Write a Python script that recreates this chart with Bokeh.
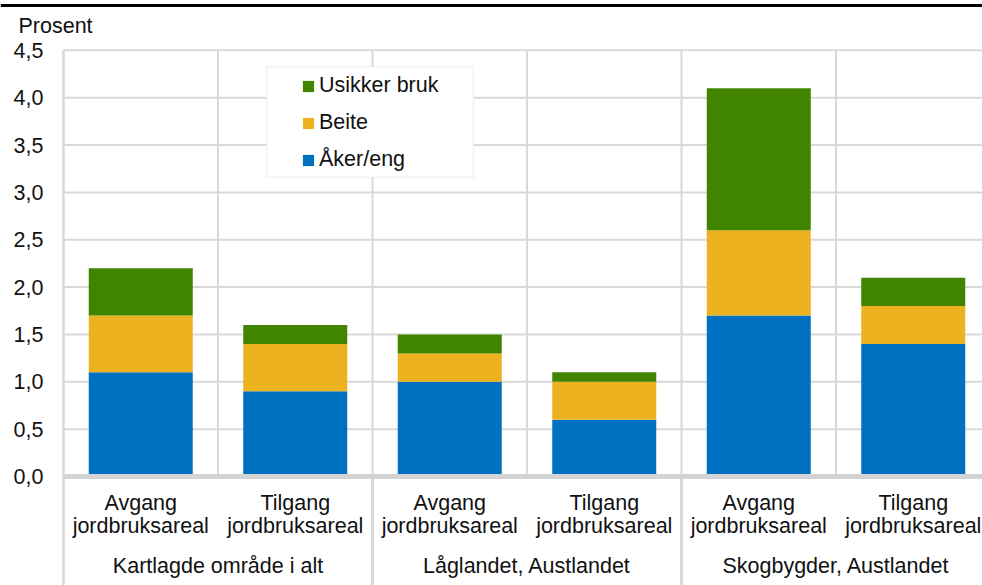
from bokeh.plotting import figure
from bokeh.models import ColumnDataSource, Legend, LegendItem, Range1d, BoxAnnotation
from bokeh.core.properties import value
from bokeh.embed import file_html
from bokeh.resources import INLINE

# ---------------- data ----------------
groups = ["Kartlagde område i alt", "Låglandet, Austlandet", "Skogbygder, Austlandet"]
subcategories = ["Avgang jordbruksareal", "Tilgang jordbruksareal"]
series_names = ["Åker/eng", "Beite", "Usikker bruk"]
aker_eng = [1.1, 0.9, 1.0, 0.6, 1.7, 1.4]
beite = [0.6, 0.5, 0.3, 0.4, 0.9, 0.4]
usikker_bruk = [0.5, 0.2, 0.2, 0.1, 1.5, 0.3]
y_ticks = [0.0, 0.5, 1.0, 1.5, 2.0, 2.5, 3.0, 3.5, 4.0, 4.5]
y_tick_labels = ["0,0", "0,5", "1,0", "1,5", "2,0", "2,5", "3,0", "3,5", "4,0", "4,5"]
y_title = "Prosent"

# ---------------- style ----------------
COLORS = ["#0070c0", "#ecb220", "#408400"]
GRID = "#d9d9d9"
FONT_NAME = "Liberation Sans"
FONT = value(FONT_NAME)
FS = "21.5px"
TXT = "#111111"

W, H = 982, 585              # figure = frame
ORIGIN_X, ORIGIN_Y = 63, 476   # pixel position of (0, 0) inside the frame (from top-left)
PX_X, PX_Y = 154.5, 94.7       # pixels per data unit


def dx(px):
    return px / PX_X


def dy(px):
    return px / PX_Y


n_cat = len(aker_eng)
cat_labels = [s for _ in groups for s in subcategories]
line1 = [s.split(" ", 1)[0] for s in cat_labels]
line2 = [s.split(" ", 1)[1] for s in cat_labels]
xc = [i + 0.5 for i in range(n_cat)]
group_x = [len(subcategories) * (g + 0.5) for g in range(len(groups))]
y_top = y_ticks[-1]

x_start = -dx(ORIGIN_X)
x_end = dx(W - ORIGIN_X)
y_start = -dy(H - ORIGIN_Y)
y_end = dy(ORIGIN_Y)

p = figure(width=W, height=H, output_backend="svg", toolbar_location=None,
           x_range=Range1d(x_start, x_end), y_range=Range1d(y_start, y_end),
           x_axis_type=None, y_axis_type=None, title=None,
           min_border=0, min_border_left=0, min_border_right=0,
           min_border_top=0, min_border_bottom=0)
p.outline_line_color = None
p.background_fill_color = "white"
p.border_fill_color = "white"

# top black rule
p.segment(x0=[x_start], y0=[y_end - dy(5)], x1=[x_end], y1=[y_end - dy(5)],
          line_color="black", line_width=3)

# horizontal grid lines
gy = y_ticks[1:]
p.segment(x0=[0] * len(gy), y0=gy, x1=[n_cat] * len(gy), y1=gy,
          line_color=GRID, line_width=2)

# vertical category separators inside plot
vx = list(range(1, n_cat))
p.segment(x0=vx, y0=[0] * len(vx), x1=vx, y1=[y_top] * len(vx),
          line_color=GRID, line_width=2)
# left border
p.segment(x0=[0], y0=[y_start], x1=[0], y1=[y_top], line_color=GRID, line_width=2.5)
# group separators in label area
gx = [len(subcategories) * g for g in range(1, len(groups) + 1)]
p.segment(x0=gx, y0=[y_start] * len(gx), x1=gx, y1=[0] * len(gx),
          line_color=GRID, line_width=3)

# bars
src = ColumnDataSource(dict(x=xc, aker=aker_eng, beite=beite, usikker=usikker_bruk))
bars = p.vbar_stack(["aker", "beite", "usikker"], x="x", width=dx(104), source=src,
                    color=COLORS, line_width=0)

# axis line at zero
p.segment(x0=[0], y0=[0], x1=[n_cat], y1=[0], line_color="#d4d4d4", line_width=5)

# y tick labels
p.text(x=[-dx(20)] * len(y_ticks), y=y_ticks, text=y_tick_labels,
       text_align="right", text_baseline="middle",
       text_font=FONT, text_font_size=FS, text_color=TXT)
# y title
p.text(x=[-dx(45)], y=[dy(450.5)], text=[y_title], text_align="left",
       text_baseline="middle", text_font=FONT, text_font_size=FS, text_color=TXT)

# category labels
p.text(x=xc, y=[-dy(26.5)] * n_cat, text=line1, text_align="center",
       text_baseline="middle", text_font=FONT, text_font_size=FS, text_color=TXT)
p.text(x=xc, y=[-dy(49.5)] * n_cat, text=line2, text_align="center",
       text_baseline="middle", text_font=FONT, text_font_size=FS, text_color=TXT)
# group labels
p.text(x=group_x, y=[-dy(89)] * len(groups), text=groups, text_align="center",
       text_baseline="middle", text_font=FONT, text_font_size=FS, text_color=TXT)

# legend frame box
box = BoxAnnotation(left=266, right=473, top=66, bottom=177,
                    left_units="canvas", right_units="canvas",
                    top_units="canvas", bottom_units="canvas",
                    fill_color="white", fill_alpha=1.0,
                    line_color=GRID, line_width=2, level="overlay")
p.add_layout(box)

items = [LegendItem(label=name, renderers=[r])
         for name, r in reversed(list(zip(series_names, bars)))]
legend = Legend(items=items, location=(301, 413), orientation="vertical",
                padding=0, spacing=12, margin=0,
                glyph_width=14, glyph_height=14, label_standoff=4,
                label_height=25,
                label_text_font=FONT_NAME, label_text_font_size=FS, label_text_color=TXT,
                border_line_color=None, background_fill_alpha=0.0)
p.add_layout(legend, "center")

open("out.html", "w").write(file_html(p, INLINE))
